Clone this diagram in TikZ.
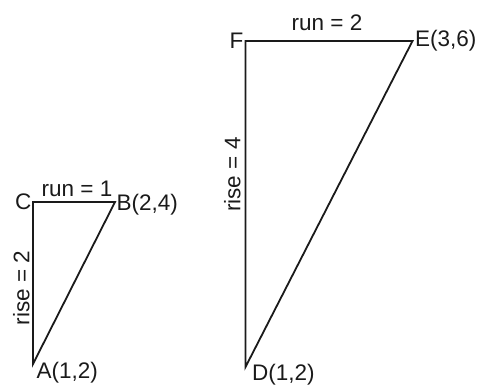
\documentclass[tikz,border=0pt]{standalone}
\usepackage{fontspec}
\setmainfont{Liberation Sans}
\definecolor{cink}{HTML}{1a1a1a}

\begin{document}
\begin{tikzpicture}[x=1pt,y=1pt,
  every node/.style={inner sep=1.5pt, text=cink, font=\fontsize{22.5}{27}\selectfont},
  side/.style={draw=cink, line width=1.8pt, line join=miter},
  riselabel/.style={rotate=90, anchor=south}]
  \useasboundingbox (0,0) rectangle (485,385);
  % small triangle
  \coordinate (A) at (33,21);
  \coordinate (B) at (115,183);
  \coordinate (C) at (33,183);
  \draw[side] (A) -- (B)
    -- node[anchor=south, yshift=3pt, xshift=3pt] (run1) {run = 1} (C)
    -- node[riselabel, pos=0.53, inner sep=2.5pt] (rise2) {rise = 2} cycle;
  \node[anchor=east] (lC) at (C) {C};
  \node[anchor=west, yshift=-3pt] (lB) at (B) {B(2,4)};
  \node[anchor=north west, xshift=2pt, yshift=4pt] (lA) at (A) {A(1,2)};
  % large triangle
  \coordinate (D) at (245.5,18);
  \coordinate (E) at (412.5,344);
  \coordinate (F) at (245.5,344);
  \draw[side] (D) -- (E)
    -- node[anchor=south, yshift=8pt, xshift=-2pt] (run2) {run = 2} (F)
    -- node[riselabel, pos=0.41, inner sep=4pt] (rise4) {rise = 4} cycle;
  \node[anchor=east, inner sep=2pt] (lF) at (F) {F};
  \node[anchor=west, inner sep=2.5pt] (lE) at (E) {E(3,6)};
  \node[anchor=north west, xshift=5pt, yshift=5pt] (lD) at (D) {D(1,2)};
\end{tikzpicture}
\end{document}
